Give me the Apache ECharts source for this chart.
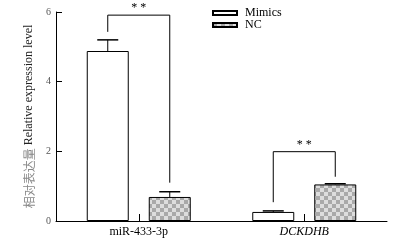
<!DOCTYPE html>
<html>
<head>
<meta charset="utf-8">
<script src="https://cdn.jsdelivr.net/npm/echarts@6/dist/echarts.min.js"></script>
<style>html,body{margin:0;padding:0;background:#fff}#c{width:414px;height:240px}</style>
</head>
<body>
<div id="c"></div>
<script>
var categories = ['miR-433-3p', 'DCKDHB'];
var seriesNames = ['Mimics', 'NC'];
var mimicsValues = [4.88, 0.26];
var mimicsErrors = [0.32, 0.03];
var ncValues = [0.69, 1.05];
var ncErrors = [0.15, 0.02];
var yTicks = [0, 2, 4, 6];
// significance brackets: [category, top, left end, right end]
var brackets = [[0, 5.91, 5.43, 1.10], [1, 1.99, 0.54, 1.27]];
var sigLabels = ['* *', '* *'];

var BAR_W = 42, GAP_PX = 20;
var OFF = (BAR_W + GAP_PX) / 2;

var cv = document.createElement('canvas');
cv.width = 8; cv.height = 8;
var cx = cv.getContext('2d');
cx.fillStyle = '#dddddd'; cx.fillRect(0, 0, 8, 8);
cx.fillStyle = '#a9a9a9'; cx.fillRect(0, 0, 4, 4); cx.fillRect(4, 4, 4, 4);

var errData = [];
mimicsValues.forEach(function (v, i) { errData.push([i, -1, v, mimicsErrors[i]]); });
ncValues.forEach(function (v, i) { errData.push([i, 1, v, ncErrors[i]]); });

var chart = echarts.init(document.getElementById('c'), null, {renderer: 'canvas'});
chart.setOption({
  animation: false,
  textStyle: {fontFamily: 'Liberation Serif'},
  grid: {left: 56, right: 27, top: 12, bottom: 19},
  legend: {
    left: 212, top: 7, orient: 'vertical', itemWidth: 24, itemHeight: 4, itemGap: 0,
    icon: 'rect', padding: 0,
    textStyle: {fontFamily: 'Liberation Serif', fontSize: 12, lineHeight: 12, color: '#000', padding: [0, 0, 0, 3]},
    data: seriesNames
  },
  xAxis: {
    type: 'category', data: categories,
    axisLine: {lineStyle: {color: '#000', width: 1}},
    axisTick: {show: true, inside: true, alignWithLabel: true, length: 7, lineStyle: {color: '#000'}},
    axisLabel: {
      color: '#000', fontSize: 12, margin: 5, fontFamily: 'Liberation Serif',
      formatter: function (v, i) { return i === 1 ? '{it|' + v + '}' : v; },
      rich: {it: {fontStyle: 'italic', fontSize: 12, fontFamily: 'Liberation Serif', color: '#000'}}
    }
  },
  yAxis: {
    type: 'value', min: yTicks[0], max: yTicks[yTicks.length - 1], interval: 2,
    name: '{cn|相对表达量} {en|Relative expression level}',
    nameLocation: 'middle', nameRotate: 90, nameGap: 9,
    nameTextStyle: {
      rich: {
        cn: {fontFamily: 'Noto Sans CJK SC', fontSize: 12, color: '#888'},
        en: {fontFamily: 'Liberation Serif', fontSize: 12, color: '#222'}
      }
    },
    axisLine: {show: true, lineStyle: {color: '#000', width: 1}},
    axisTick: {show: true, inside: true, length: 6, lineStyle: {color: '#000'}},
    axisLabel: {color: '#555', fontSize: 10, margin: 5, fontFamily: 'Liberation Serif'},
    splitLine: {show: false}
  },
  series: [
    {
      name: seriesNames[0], type: 'bar', data: mimicsValues, barWidth: BAR_W,
      barGap: (GAP_PX / BAR_W * 100) + '%',
      itemStyle: {color: '#fff', borderColor: '#000', borderWidth: 1}
    },
    {
      name: seriesNames[1], type: 'bar', data: ncValues, barWidth: BAR_W,
      itemStyle: {color: {image: cv, repeat: 'repeat'}, borderColor: '#000', borderWidth: 1}
    },
    {
      type: 'custom', data: errData, silent: true, z: 5,
      renderItem: function (params, api) {
        var c = api.value(0), side = api.value(1), v = api.value(2), e = api.value(3);
        var p0 = api.coord([c, v]), p1 = api.coord([c, v + e]);
        var x = p0[0] + side * OFF;
        return {type: 'group', children: [
          {type: 'line', shape: {x1: x, y1: p0[1], x2: x, y2: p1[1]}, style: {stroke: '#000', lineWidth: 1}},
          {type: 'line', shape: {x1: x - 10.5, y1: p1[1], x2: x + 10.5, y2: p1[1]}, style: {stroke: '#000', lineWidth: 1.5}}
        ]};
      }
    },
    {
      type: 'custom', data: brackets, silent: true, z: 6,
      renderItem: function (params, api) {
        var c = api.value(0);
        var top = api.coord([c, api.value(1)]);
        var lb = api.coord([c, api.value(2)]);
        var rb = api.coord([c, api.value(3)]);
        var xl = top[0] - OFF, xr = top[0] + OFF;
        return {type: 'group', children: [
          {type: 'polyline', shape: {points: [[xl, lb[1]], [xl, top[1]], [xr, top[1]], [xr, rb[1]]]},
           style: {stroke: '#000', lineWidth: 1, fill: null}},
          {type: 'text', style: {text: sigLabels[params.dataIndex], x: top[0], y: top[1] - 1,
           align: 'center', verticalAlign: 'bottom', fontSize: 12, fontFamily: 'Liberation Serif', fill: '#000'}}
        ]};
      }
    }
  ]
});
</script>
</body>
</html>
